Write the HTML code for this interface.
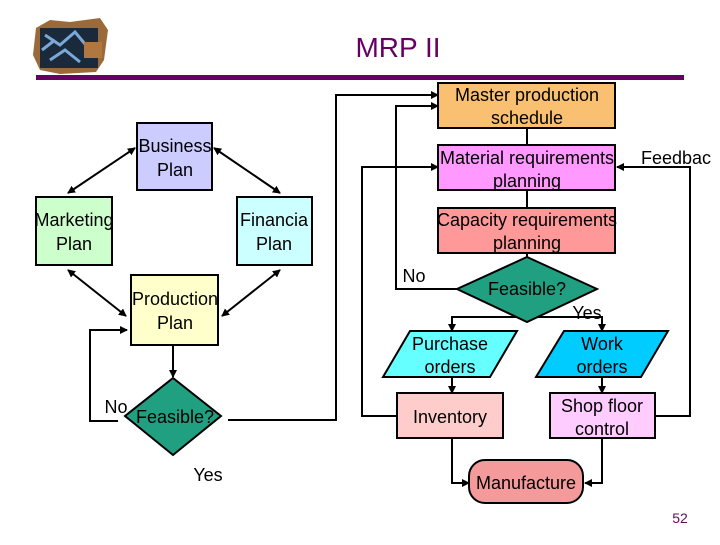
<!DOCTYPE html>
<html><head><style>
body{margin:0;background:#fff;}
svg text{font-family:"Liberation Sans",sans-serif;}
</style></head><body>
<svg width="720" height="540" viewBox="0 0 720 540" xmlns="http://www.w3.org/2000/svg">
<defs><marker id="a" markerWidth="8" markerHeight="8" refX="7" refY="4" orient="auto-start-reverse" markerUnits="userSpaceOnUse"><path d="M0,0 L8,4 L0,8z" fill="#000"/></marker></defs>
<g>
<path d="M36,28 L50,20 L70,22 L100,18 L108,30 L104,60 L96,72 L60,74 L40,70 L33,55z" fill="#9a6a3a"/>
<rect x="40" y="28" width="58" height="40" fill="#1a2a3a"/>
<path d="M45,35 L60,45 L75,32 L90,50 M50,60 L65,50 L80,62 M42,50 L55,40" stroke="#7aa8d8" stroke-width="3" fill="none"/>
<rect x="84" y="42" width="18" height="16" fill="#b07840"/>
</g>
<text x="398" y="57" font-size="28" fill="#660066" text-anchor="middle">MRP II</text>
<rect x="36" y="75" width="648" height="5" fill="#660066"/>
<g stroke="#000" stroke-width="2" fill="none">
<line x1="135" y1="148" x2="68" y2="193" marker-start="url(#a)" marker-end="url(#a)"/>
<line x1="214" y1="148" x2="280" y2="193" marker-start="url(#a)" marker-end="url(#a)"/>
<line x1="68" y1="270" x2="126" y2="316" marker-start="url(#a)" marker-end="url(#a)"/>
<line x1="280" y1="270" x2="222" y2="316" marker-start="url(#a)" marker-end="url(#a)"/>
<line x1="173" y1="345" x2="173" y2="377" marker-end="url(#a)"/>
<polyline points="118,421 90,421 90,330 127,330" marker-end="url(#a)"/>
<polyline points="228,420 336,420 336,95 438,95" marker-end="url(#a)"/>
<polyline points="457,289 396,289 396,106 438,106" marker-end="url(#a)"/>
<polyline points="397,416 362,416 362,167 438,167" marker-end="url(#a)"/>
<polyline points="656,416 690,416 690,167 617,167"  marker-end="url(#a)"/>
<line x1="527" y1="128" x2="527" y2="145"/>
<line x1="527" y1="190" x2="527" y2="208"/>
<line x1="527" y1="253" x2="527" y2="257"/>
<line x1="527" y1="322" x2="527" y2="317"/>
<polyline points="452,330 452,317 602,317 602,330"/>
<line x1="452" y1="318" x2="452" y2="331" marker-end="url(#a)"/>
<line x1="602" y1="318" x2="602" y2="331" marker-end="url(#a)"/>
<line x1="452" y1="377" x2="452" y2="393" marker-end="url(#a)"/>
<line x1="602" y1="377" x2="602" y2="393" marker-end="url(#a)"/>
<polyline points="452,438 452,483 469,483" marker-end="url(#a)"/>
<polyline points="602,438 602,483 585,483" marker-end="url(#a)"/>
</g>
<g stroke="#000" stroke-width="2">
<rect x="137" y="123" width="75" height="67" fill="#ccccff"/>
<rect x="36" y="197" width="76" height="68" fill="#ccffcc"/>
<rect x="237" y="197" width="75" height="68" fill="#ccffff"/>
<rect x="131" y="275" width="87" height="70" fill="#ffffcc"/>
<polygon points="173,378 221,416 173,455 125,416" fill="#20a080"/>
<rect x="438" y="83" width="177" height="45" fill="#f8c070"/>
<rect x="438" y="145" width="177" height="45" fill="#ff99ff"/>
<rect x="438" y="208" width="177" height="45" fill="#ff9999"/>
<polygon points="527,257 597,289 527,322 457,289" fill="#20a080"/>
<polygon points="410,331 517,331 490,377 383,377" fill="#66ffff"/>
<polygon points="564,331 668,331 641,377 536,377" fill="#00ccff"/>
<rect x="397" y="393" width="106" height="45" fill="#ffcccc"/>
<rect x="550" y="393" width="105" height="45" fill="#ffccff"/>
<rect x="469" y="460" width="114" height="43" rx="16" fill="#f49a9a"/>
</g>
<g font-size="18" fill="#000" text-anchor="middle">
<text x="175" y="152">Business</text><text x="175" y="176">Plan</text>
<text x="74" y="226">Marketing</text><text x="74" y="250">Plan</text>
<text x="274" y="226">Financia</text><text x="274" y="250">Plan</text>
<text x="175" y="305">Production</text><text x="175" y="329">Plan</text>
<text x="175" y="423">Feasible?</text>
<text x="116" y="413">No</text>
<text x="208" y="481">Yes</text>
<text x="527" y="101">Master production</text><text x="527" y="124">schedule</text>
<text x="527" y="164">Material requirements</text><text x="527" y="187">planning</text>
<text x="527" y="226">Capacity requirements</text><text x="527" y="249">planning</text>
<text x="527" y="295">Feasible?</text>
<text x="414" y="282">No</text>
<text x="587" y="319">Yes</text>
<text x="641" y="164" text-anchor="start">Feedbac</text>
<text x="450" y="350">Purchase</text><text x="450" y="373">orders</text>
<text x="602" y="350">Work</text><text x="602" y="373">orders</text>
<text x="450" y="423">Inventory</text>
<text x="602" y="412">Shop floor</text><text x="602" y="435">control</text>
<text x="526" y="489">Manufacture</text>
</g>
<text x="680" y="523" font-size="14" fill="#5a1060" text-anchor="middle">52</text>
</svg>
</body></html>
